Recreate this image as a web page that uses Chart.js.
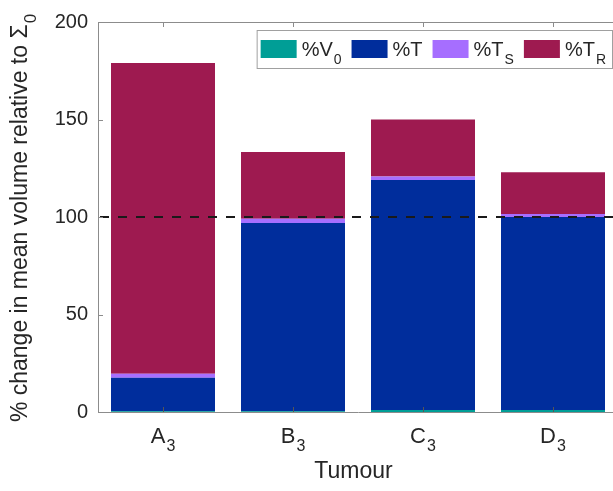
<!DOCTYPE html>
<html lang="en">
<head>
    <meta charset="UTF-8">
    <title>Mean volume change by tumour</title>
    <script src="https://cdn.jsdelivr.net/npm/chart.js"></script>
    <style>
        html, body { margin: 0; padding: 0; background: #fff; }
        #wrap { width: 613px; height: 491px; overflow: hidden; }
    </style>
</head>
<body>
    <div id="wrap"><canvas id="chart" width="622" height="491"></canvas></div>

    <script>
        // categories (letter + subscript)
        const tumours = ['A', 'B', 'C', 'D'];
        const tumourSub = ['3', '3', '3', '3'];

        // stacked series, % of Sigma_0
        const pctV0 = [0.4, 0.4, 1.0, 1.0];
        const pctT  = [17.2, 96.5, 118.0, 99.0];
        const pctTS = [2.0, 2.2, 1.8, 1.5];
        const pctTR = [159.4, 34.2, 29.2, 21.5];

        // legend text (base + subscript)
        const seriesBase = ['%V', '%T', '%T', '%T'];
        const seriesSub  = ['0', '', 'S', 'R'];
        const seriesColors = ['#009E96', '#002D9C', '#A66EFF', '#9E1A50'];

        const yTicks = [0, 50, 100, 150, 200];
        const refLine = 100;

        const FONT = '"Liberation Sans", Arial, Helvetica, sans-serif';
        const TXT = '#262626';
        const AXIS = '#8c8c8c';

        // text with a subscript, returns width
        function subText(ctx, base, sub, x, y, size, align, draw) {
            ctx.font = size + 'px ' + FONT;
            const wb = ctx.measureText(base).width;
            ctx.font = Math.round(size * 0.72) + 'px ' + FONT;
            const ws = sub ? ctx.measureText(sub).width + 1 : 0;
            const w = wb + ws;
            if (!draw) return w;
            let x0 = x;
            if (align === 'center') x0 = x - w / 2;
            ctx.textAlign = 'left';
            ctx.textBaseline = 'alphabetic';
            ctx.font = size + 'px ' + FONT;
            ctx.fillText(base, x0, y);
            if (sub) {
                ctx.font = Math.round(size * 0.72) + 'px ' + FONT;
                ctx.fillText(sub, x0 + wb + 1, y + size * 0.38);
            }
            return w;
        }

        const decorations = {
            id: 'decorations',
            afterDatasetsDraw(chart) {
                const ctx = chart.ctx;
                const area = chart.chartArea;
                const xs = chart.scales.x;
                const ys = chart.scales.y;
                ctx.save();

                // dashed reference line
                const yRef = ys.getPixelForValue(refLine);
                ctx.strokeStyle = '#1a1a1a';
                ctx.lineWidth = 2;
                ctx.setLineDash([9, 9]);
                ctx.beginPath();
                ctx.moveTo(area.left + 2, yRef);
                ctx.lineTo(area.right, yRef);
                ctx.stroke();
                ctx.setLineDash([]);

                // box top line and inward ticks
                ctx.strokeStyle = AXIS;
                ctx.lineWidth = 1;
                ctx.beginPath();
                ctx.moveTo(area.left, area.top + 0.5);
                ctx.lineTo(area.right, area.top + 0.5);
                yTicks.forEach(v => {
                    const py = Math.round(ys.getPixelForValue(v)) + 0.5;
                    ctx.moveTo(area.left, py);
                    ctx.lineTo(area.left + 5, py);
                });
                tumours.forEach((c, i) => {
                    const px = Math.round(xs.getPixelForValue(i)) + 0.5;
                    ctx.moveTo(px, area.top);
                    ctx.lineTo(px, area.top + 5);
                });
                ctx.stroke();
                ctx.strokeStyle = '#555';
                ctx.beginPath();
                tumours.forEach((c, i) => {
                    const px = Math.round(xs.getPixelForValue(i)) + 0.5;
                    ctx.moveTo(px, area.bottom);
                    ctx.lineTo(px, area.bottom - 5);
                });
                ctx.stroke();

                // x tick labels with subscripts
                ctx.fillStyle = TXT;
                tumours.forEach((c, i) => {
                    subText(ctx, c, tumourSub[i], xs.getPixelForValue(i), area.bottom + 31, 22, 'center', true);
                });

                // x title
                ctx.font = '23px ' + FONT;
                ctx.textAlign = 'center';
                ctx.textBaseline = 'alphabetic';
                ctx.fillText('Tumour', (area.left + 613) / 2 - 2, area.bottom + 66);

                // y title, rotated
                ctx.save();
                ctx.translate(27, (area.top + area.bottom) / 2 + 1);
                ctx.rotate(-Math.PI / 2);
                subText(ctx, '% change in mean volume relative to \u03A3', '0', 0, 0, 23, 'center', true);
                ctx.restore();

                // legend box
                const size = 20;
                const sw = 36, sh = 18, gapS = 5, gapI = 10, pad = 4;
                const widths = seriesBase.map((b, i) => subText(ctx, b, seriesSub[i], 0, 0, size, 'left', false));
                let total = pad * 2 + 2;
                widths.forEach(w => { total += sw + gapS + w + gapI; });
                total -= gapI;
                const bx = 612 - total, by = area.top + 8, bh = 38;
                ctx.fillStyle = '#fff';
                ctx.fillRect(bx, by, total, bh);
                ctx.strokeStyle = '#a0a0a0';
                ctx.strokeRect(bx + 0.5, by + 0.5, total, bh);
                let x = bx + pad;
                seriesBase.forEach((b, i) => {
                    ctx.fillStyle = seriesColors[i];
                    ctx.fillRect(x, by + 10, sw, sh);
                    ctx.fillStyle = TXT;
                    x += sw + gapS;
                    subText(ctx, b, seriesSub[i], x, by + 26, size, 'left', true);
                    x += widths[i] + gapI;
                });

                ctx.restore();
            }
        };

        const seriesData = [pctV0, pctT, pctTS, pctTR];
        const datasets = seriesData.map((d, i) => ({
            label: seriesBase[i] + seriesSub[i],
            data: d,
            backgroundColor: seriesColors[i],
            borderWidth: 0,
            barPercentage: 0.8,
            categoryPercentage: 1.0
        }));

        new Chart(document.getElementById('chart'), {
            type: 'bar',
            data: {
                labels: tumours.map((c, i) => c + tumourSub[i]),
                datasets: datasets
            },
            options: {
                responsive: false,
                animation: false,
                layout: { padding: { left: 38, top: 22, right: 4, bottom: 79 } },
                plugins: {
                    legend: { display: false },
                    tooltip: { enabled: false }
                },
                scales: {
                    x: {
                        stacked: true,
                        grid: { display: false },
                        border: { display: true, color: AXIS },
                        ticks: { display: false },
                        afterFit(scale) { scale.height = 0; }
                    },
                    y: {
                        stacked: true,
                        min: 0,
                        max: 200,
                        grid: { display: false, drawTicks: false },
                        border: { display: true, color: AXIS },
                        afterBuildTicks(scale) { scale.ticks = yTicks.map(v => ({ value: v })); },
                        ticks: {
                            color: TXT,
                            padding: 10,
                            font: { family: FONT, size: 20 }
                        },
                        afterFit(scale) { scale.width = 60; }
                    }
                }
            },
            plugins: [decorations]
        });
    </script>
</body>
</html>
